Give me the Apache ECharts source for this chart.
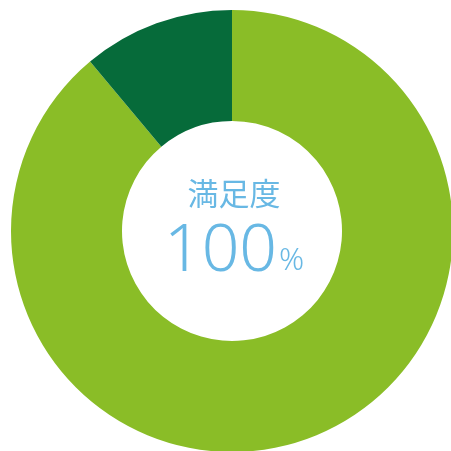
<!DOCTYPE html>
<html>
<head>
<meta charset="utf-8">
<script src="https://cdn.jsdelivr.net/npm/echarts@6/dist/echarts.min.js"></script>
<style>
html, body { margin: 0; padding: 0; background: #fff; }
#main { width: 451px; height: 451px; }
</style>
</head>
<body>
<div id="main"></div>
<script>
// データ
var names = ['満足', 'その他'];
var values = [88.9, 11.1];
var colors = ['#8abd27', '#066b3a'];
var centerLabel = '満足度';
var centerValue = '100';
var centerUnit = '%';

var myChart = echarts.init(document.getElementById('main'));

var option = {
    backgroundColor: '#fff',
    animation: false,
    color: colors,
    series: [{
        type: 'pie',
        center: [232, 231],
        radius: [110, 221],
        startAngle: 90,
        clockwise: true,
        label: { show: false },
        labelLine: { show: false },
        itemStyle: { borderWidth: 0 },
        emphasis: { disabled: true },
        data: names.map(function (n, i) {
            return { name: n, value: values[i] };
        })
    }],
    graphic: [{
        type: 'text',
        x: 234,
        y: 193,
        style: {
            text: centerLabel,
            fill: '#68b8e4',
            fontSize: 31,
            fontFamily: 'Noto Sans CJK JP',
            align: 'center',
            verticalAlign: 'middle'
        }
    }, {
        type: 'text',
        x: 277,
        y: 252,
        style: {
            text: centerValue,
            fill: '#68b8e4',
            fontSize: 66,
            fontFamily: 'Noto Sans',
            fontWeight: 300,
            align: 'right',
            verticalAlign: 'middle'
        }
    }, {
        type: 'text',
        x: 279,
        y: 261,
        style: {
            text: centerUnit,
            fill: '#68b8e4',
            fontSize: 31,
            fontFamily: 'Noto Sans',
            fontWeight: 300,
            align: 'left',
            verticalAlign: 'middle'
        }
    }]
};

myChart.setOption(option);
</script>
</body>
</html>
